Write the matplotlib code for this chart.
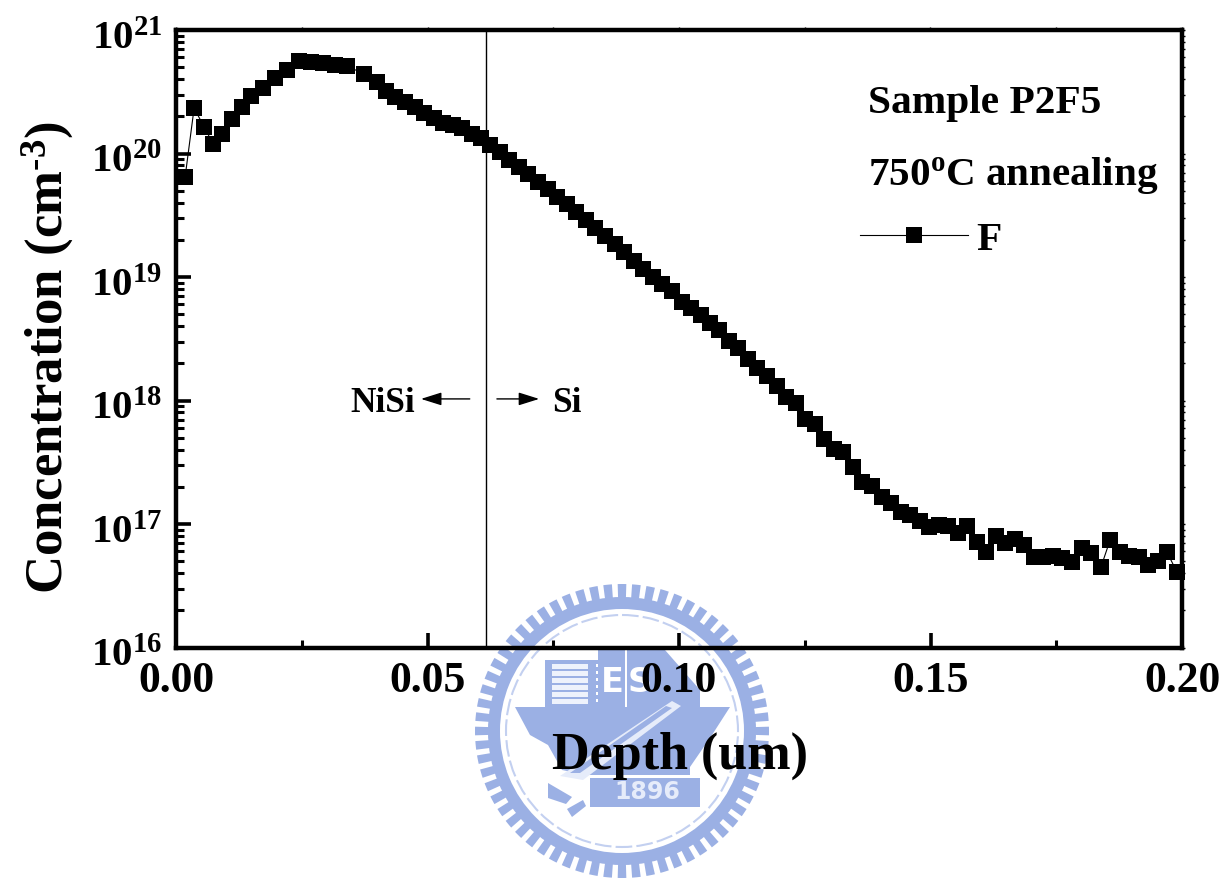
import numpy as np
import matplotlib
matplotlib.use("Agg")
import matplotlib.pyplot as plt
from matplotlib.patches import Circle, Wedge, Polygon, Rectangle
from matplotlib.transforms import ScaledTranslation
from matplotlib.ticker import LogLocator, NullFormatter

W, H = 1229, 881
SERIF = "Liberation Serif"
plt.rcParams.update({
    "font.family": SERIF, "font.weight": "bold",
    "mathtext.fontset": "custom",
    "mathtext.rm": SERIF + ":bold", "mathtext.bf": SERIF + ":bold",
    "mathtext.it": SERIF + ":bold", "mathtext.default": "bf",
})

# ---------- data ----------
depth_um = [.0018,.0036,.0056,.0074,.0091,.0111,.0131,.0149,.0173,.0197,.0221,.0245,.0268,.0292,.0316,.0340,
            .0374,.0400,.0417,.0435,.0455,.0475,.0493,.0513,.0531,.0551,.0569,.0588,.0606,.0624,.0644,.0662,
            .0682,.0700,.0720,.0740,.0757,.0777,.0795,.0815,.0833,.0853,.0873,.0891,.0911,.0928,.0948,.0966,
            .0986,.1006,.1024,.1044,.1062,.1080,.1099,.1117,.1137,.1155,.1175,.1195,.1213,.1233,.1250,.1270,
            .1288,.1308,.1326,.1346,.1364,.1384,.1404,.1421,.1441,.1459,.1479,.1497,.1517,.1535,.1555,.1573,
            .1592,.1610,.1630,.1648,.1668,.1686,.1706,.1724,.1744,.1761,.1781,.1801,.1819,.1839,.1857,.1877,
            .1895,.1914,.1932,.1952,.1970,.1990]
f_conc = [6.4e19,2.33e20,1.64e20,1.19e20,1.44e20,1.90e20,2.38e20,2.92e20,3.39e20,4.09e20,4.74e20,5.61e20,5.51e20,5.41e20,5.21e20,5.11e20,
          4.40e20,3.79e20,3.21e20,2.87e20,2.61e20,2.38e20,2.13e20,1.94e20,1.77e20,1.70e20,1.61e20,1.44e20,1.34e20,1.17e20,1.03e20,8.85e19,
          7.78e19,6.82e19,5.88e19,5.16e19,4.45e19,3.90e19,3.36e19,2.90e19,2.49e19,2.15e19,1.85e19,1.59e19,1.35e19,1.16e19,1.00e19,8.77e18,
          7.71e18,6.28e18,5.61e18,4.92e18,4.25e18,3.72e18,3.03e18,2.66e18,2.17e18,1.83e18,1.58e18,1.31e18,1.07e18,9.55e17,7.08e17,6.46e17,
          4.88e17,4.05e17,3.83e17,2.90e17,2.19e17,2.03e17,1.66e17,1.48e17,1.25e17,1.18e17,1.06e17,9.46e16,9.82e16,9.64e16,8.45e16,9.64e16,
          7.14e16,5.93e16,8.00e16,7.01e16,7.56e16,6.76e16,5.41e16,5.41e16,5.51e16,5.31e16,4.92e16,6.40e16,5.82e16,4.49e16,7.41e16,5.93e16,
          5.51e16,5.41e16,4.66e16,5.01e16,5.93e16,4.08e16]
x_ticks = [0.00, 0.05, 0.10, 0.15, 0.20]
x_tick_labels = ["0.00", "0.05", "0.10", "0.15", "0.20"]
y_ticks = [1e16, 1e17, 1e18, 1e19, 1e20, 1e21]
y_exponents = [16, 17, 18, 19, 20, 21]
interface_depth = 0.0616
assert len(depth_um) == len(f_conc)

fig = plt.figure(figsize=(W / 100, H / 100), dpi=100, facecolor="white")

# ---------- background seal (watermark) ----------
seal = fig.add_axes([0, 0, 1, 1], zorder=0)
seal.set_xlim(0, W); seal.set_ylim(H, 0); seal.axis("off")
BLUE = "#9BB0E4"; PALE = "#C3D0F0"; cx, cy = 622, 731
step = 360 / 64
for a in np.arange(0, 360, step):
    seal.add_patch(Wedge((cx, cy), 147, a - step * 0.3, a + step * 0.3, width=14, color=BLUE, lw=0))
    seal.add_patch(Wedge((cx, cy), 133, a + step * 0.3, a + step * 0.7, width=4, color=PALE, lw=0))
seal.add_patch(Wedge((cx, cy), 134, 0, 360, width=12, fc=BLUE, lw=0))
seal.add_patch(Circle((cx, cy), 116, fc="none", ec=PALE, lw=1.5, ls=(0, (8, 2))))
# hull
seal.add_patch(Polygon([(515, 707), (730, 707), (712, 735), (690, 767), (690, 775), (585, 775),
                        (562, 770), (548, 745), (530, 735)], fc=BLUE, lw=0))
# building with stripes
seal.add_patch(Rectangle((545, 660), 53, 47, fc=BLUE, lw=0))
for yy in range(664, 704, 7):
    seal.add_patch(Rectangle((552, yy), 36, 4.5, fc="#EEF2FC", lw=0))
for yy in range(664, 704, 7):
    seal.add_patch(Rectangle((596, yy), 2, 3, fc="white", lw=0))
seal.add_patch(Rectangle((598, 650), 27, 57, fc=BLUE, lw=0))
seal.add_patch(Polygon([(627, 650), (665, 650), (700, 690), (700, 707), (627, 707)], fc=BLUE, lw=0))
seal.add_patch(Rectangle((625, 650), 2, 54, fc="white", lw=0))
seal.text(612, 683, "E", color="white", fontsize=24, ha="center", va="center", family="DejaVu Sans")
seal.text(640, 683, "S", color="white", fontsize=24, ha="center", va="center", family="DejaVu Sans")
# diagonal ribbon
seal.add_patch(Polygon([(672, 701), (681, 706), (583, 780), (560, 776)], fc="#E6ECFA", lw=0))
seal.add_patch(Polygon([(666, 706), (672, 708), (580, 773), (570, 773)], fc=BLUE, lw=0))
# lower shapes
seal.add_patch(Polygon([(548, 783), (572, 797), (566, 804), (548, 798)], fc=BLUE, lw=0))
seal.add_patch(Polygon([(567, 809), (583, 800), (586, 806), (572, 817)], fc=BLUE, lw=0))
seal.add_patch(Rectangle((590, 778), 110, 29, fc=BLUE, lw=0))
seal.text(647, 792, "1896", color="#E6ECFA", fontsize=17, ha="center", va="center", family="DejaVu Sans")

# ---------- main axes ----------
L, R, T, B = 176, 1182, 30, 647.5
ax = fig.add_axes([L / W, 1 - B / H, (R - L) / W, (B - T) / H], zorder=2)
ax.patch.set_alpha(0)
ax.set_yscale("log")
ax.set_xlim(0, 0.2); ax.set_ylim(1e16, 1e21)

line, = ax.plot(depth_um, f_conc, color="black", lw=0.8, marker="s", ms=11, mew=0,
                clip_on=False, label="F", zorder=3)
ax.axvline(interface_depth, color="black", lw=1.0, zorder=2)

for s in ax.spines.values():
    s.set_linewidth(3.2)
ax.set_xticks(x_ticks, x_tick_labels)
ax.set_xticks(np.array(x_ticks[:-1]) + 0.025, minor=True)
ax.set_yticks(y_ticks, [rf"$\mathbf{{10^{{{e}}}}}$" for e in y_exponents])
ax.yaxis.set_minor_locator(LogLocator(base=10, subs=np.arange(2, 10), numticks=12))
ax.yaxis.set_minor_formatter(NullFormatter())
ax.tick_params(axis="both", which="major", direction="in", length=11, width=2.6)
ax.tick_params(axis="both", which="minor", direction="in", length=6, width=2.2)
ax.tick_params(axis="x", which="major", pad=10, labelsize=31.5)
ax.tick_params(axis="y", which="major", pad=10, labelsize=29.5)
down = ScaledTranslation(0, -5 / 100, fig.dpi_scale_trans)
for lab in ax.get_yticklabels():
    lab.set_transform(lab.get_transform() + down)

# tiny outward ticks on the top and right edges
sec_y = ax.secondary_yaxis("right")
sec_y.set_yticks(y_ticks, [""] * len(y_ticks))
sec_y.yaxis.set_minor_locator(LogLocator(base=10, subs=np.arange(2, 10), numticks=12))
sec_y.yaxis.set_minor_formatter(NullFormatter())
sec_y.tick_params(which="both", direction="out", length=2.4, width=1)
sec_y.spines["right"].set_visible(False)
sec_x = ax.secondary_xaxis("top")
sec_x.set_xticks(x_ticks, [""] * len(x_ticks))
sec_x.set_xticks(np.array(x_ticks[:-1]) + 0.025, minor=True)
sec_x.tick_params(which="both", direction="out", length=2.4, width=1)
sec_x.spines["top"].set_visible(False)

fig.text(680 / W, 1 - 756 / H, "Depth (um)", fontsize=37.5, ha="center", va="center")
fig.text(48 / W, 1 - 358 / H, r"Concentration (cm$^{\text{-}3}$)", fontsize=38, rotation=90,
         ha="center", va="center")

def ann(px, py, s, size):
    ax.text((px - L) / (R - L), 1 - (py - T) / (B - T), s, fontsize=size, transform=ax.transAxes,
            ha="left", va="center")
ann(868, 104, "Sample P2F5", 29.8)
ann(868, 175, r"750$^{\mathrm{o}}$C annealing", 29.6)
ann(350, 403, "NiSi", 25.5)
ann(552, 403, "Si", 25.5)

arrow_y = 1.03e18
for x0, x1 in [(0.0584, 0.0487), (0.0638, 0.0722)]:
    ax.annotate("", xy=(x1, arrow_y), xytext=(x0, arrow_y),
                arrowprops=dict(arrowstyle="-|>,head_length=0.7,head_width=0.22", color="black", lw=1.0,
                                shrinkA=0, shrinkB=0, mutation_scale=18))

ax.legend(handles=[line], loc="upper left", frameon=False, fontsize=29.8,
          bbox_to_anchor=((860 - L) / (R - L), 1 - (221 - T) / (B - T)),
          borderpad=0, borderaxespad=0, handlelength=2.6, handletextpad=0.22)

fig.savefig("out.png", dpi=100)
